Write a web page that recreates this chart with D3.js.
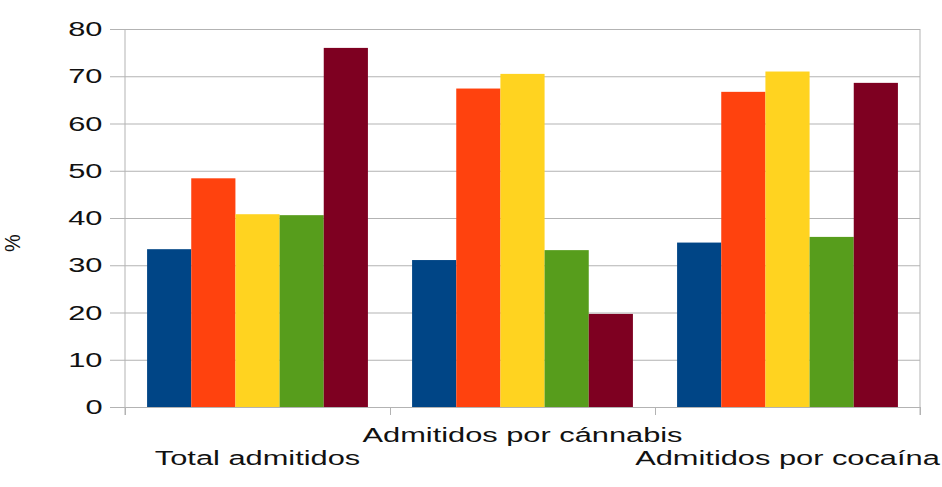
<!DOCTYPE html>
<html>
<head>
<meta charset="utf-8">
<script src="https://cdn.jsdelivr.net/npm/d3@7"></script>
<style>
  body { margin: 0; background: #fff; }
  svg { display: block; font-family: "Liberation Sans", Arial, sans-serif; }
</style>
</head>
<body>
<div id="chart"></div>
<script>
// categorias y valores (%)
const categories = ["Total admitidos", "Admitidos por cánnabis", "Admitidos por cocaína"];
const seriesNames = ["Serie 1", "Serie 2", "Serie 3", "Serie 4", "Serie 5"];
const serie1 = [33.4, 31.1, 34.8];
const serie2 = [48.4, 67.4, 66.7];
const serie3 = [40.8, 70.5, 71.0];
const serie4 = [40.6, 33.2, 36.0];
const serie5 = [76.0, 19.7, 68.6];
const yTicks = [0, 10, 20, 30, 40, 50, 60, 70, 80];
const yLabel = "%";

const colors = ["#004586", "#ff420e", "#ffd320", "#579d1c", "#7e0021"];
const seriesValues = [serie1, serie2, serie3, serie4, serie5];

const width = 942, height = 487;
const plotLeft = 125, plotRight = 920, plotTop = 29, plotBottom = 407;
const stretch = 1.54; // texto estirado horizontalmente como en la imagen

const svg = d3.select("#chart").append("svg")
    .attr("width", width)
    .attr("height", height);

const x0 = d3.scaleBand().domain(categories).range([plotLeft, plotRight]);
const x1 = d3.scaleBand().domain(seriesNames).range([0, x0.bandwidth()]).paddingOuter(0.5);
const y = d3.scaleLinear().domain([0, 80]).range([plotBottom, plotTop]);
const xb = d3.scaleLinear().domain([0, 3]).range([plotLeft, plotRight]);

// rejilla
svg.append("g")
    .attr("transform", `translate(${plotLeft},0)`)
    .call(d3.axisLeft(y).tickValues(yTicks).tickSize(-(plotRight - plotLeft)).tickFormat(""))
    .call(g => g.select(".domain").remove())
    .call(g => g.selectAll("line").attr("stroke", "#b3b3b3"));

// marcas eje y
svg.append("g")
    .attr("transform", `translate(${plotLeft},0)`)
    .call(d3.axisLeft(y).tickValues(yTicks).tickSize(15).tickSizeOuter(0).tickFormat(""))
    .call(g => g.select(".domain").attr("stroke", "#b3b3b3").attr("d", `M0,${plotTop}V${plotBottom + 8}`))
    .call(g => g.selectAll("line").attr("stroke", "#b3b3b3"));

// borde derecho
svg.append("line")
    .attr("x1", plotRight).attr("x2", plotRight)
    .attr("y1", plotTop).attr("y2", plotBottom + 8)
    .attr("stroke", "#b3b3b3");

// marcas eje x
svg.append("g")
    .attr("transform", `translate(0,${plotBottom})`)
    .call(d3.axisBottom(xb).tickValues([0, 1, 2, 3]).tickSize(8).tickSizeOuter(0).tickFormat(""))
    .call(g => g.select(".domain").attr("stroke", "#b3b3b3"))
    .call(g => g.selectAll("line").attr("stroke", "#b3b3b3"));

// barras
const groups = svg.append("g").selectAll("g")
    .data(categories)
    .join("g")
    .attr("transform", d => `translate(${x0(d)},0)`);

groups.selectAll("rect")
    .data((c, i) => seriesNames.map((s, j) => ({s, v: seriesValues[j][i], c: colors[j]})))
    .join("rect")
    .attr("x", d => x1(d.s))
    .attr("width", x1.bandwidth())
    .attr("y", d => y(d.v))
    .attr("height", d => y(0) - y(d.v))
    .attr("fill", d => d.c);

// etiquetas eje y
svg.append("g").selectAll("text")
    .data(yTicks)
    .join("text")
    .attr("transform", d => `translate(102.5,${y(d)}) scale(${stretch},1)`)
    .attr("text-anchor", "end")
    .attr("dy", "0.36em")
    .style("font-size", "20px")
    .style("fill", "#111")
    .text(d => d);

// etiquetas categorias (alternadas)
svg.append("g").selectAll("text")
    .data(categories)
    .join("text")
    .attr("transform", (d, i) => `translate(${x0(d) + x0.bandwidth() / 2},${i % 2 ? 442 : 465}) scale(${stretch},1)`)
    .attr("text-anchor", "middle")
    .style("font-size", "20px")
    .style("fill", "#111")
    .text(d => d);

// titulo eje y
svg.append("text")
    .attr("transform", `translate(20,243) scale(1.1,1) rotate(-90)`)
    .attr("text-anchor", "middle")
    .style("font-size", "20px")
    .style("fill", "#111")
    .text(yLabel);
</script>
</body>
</html>
